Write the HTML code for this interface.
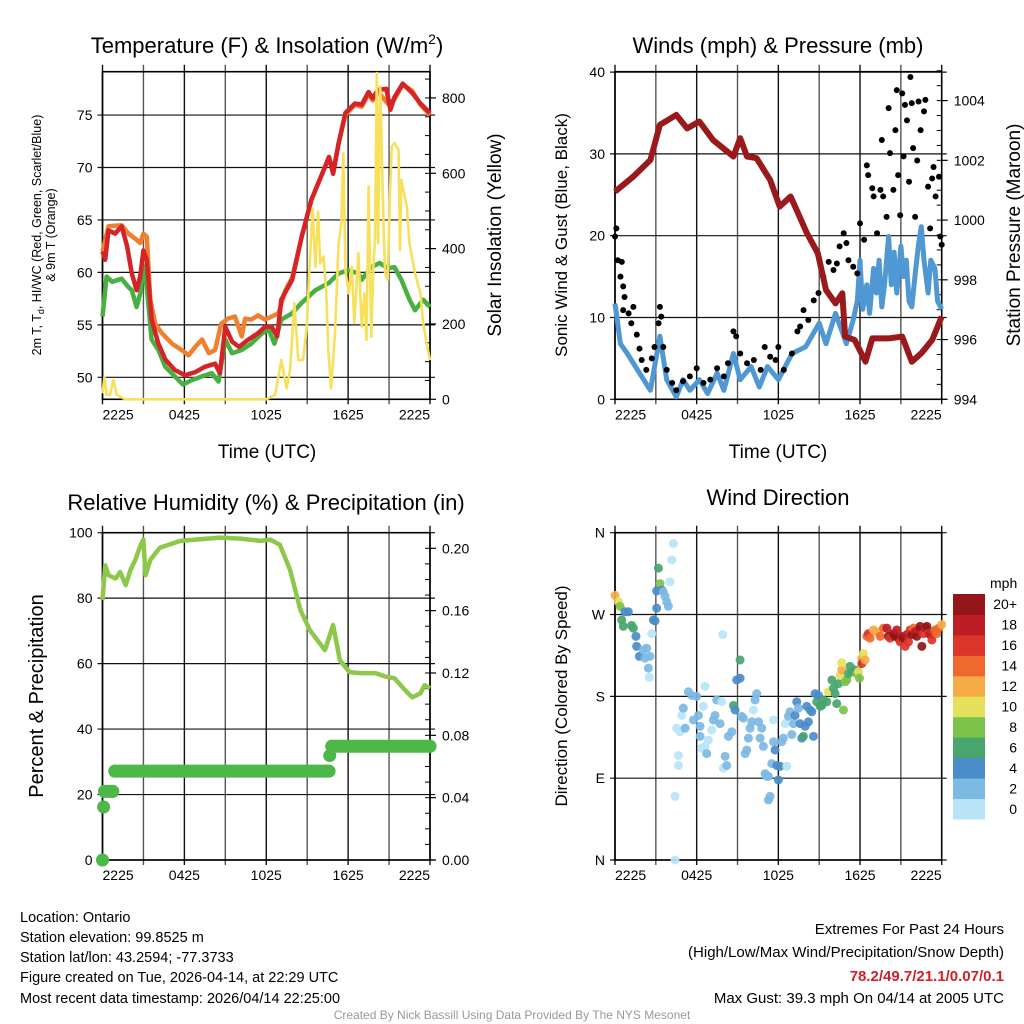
<!DOCTYPE html>
<html><head><meta charset="utf-8"><title>Mesonet Station Summary</title>
<style>
html,body{margin:0;padding:0;background:#fff;}
svg{display:block;font-family:"Liberation Sans",Arial,sans-serif;}
</style></head>
<body>
<svg id="chart" width="1024" height="1024" viewBox="0 0 1024 1024" xmlns="http://www.w3.org/2000/svg">
<rect x="0" y="0" width="1024" height="1024" fill="#fff"/>
<!-- titles -->
<text x="267" y="53" font-size="22" text-anchor="middle">Temperature (F) &amp; Insolation (W/m<tspan dy="-9" font-size="14">2</tspan><tspan dy="9">)</tspan></text>
<text x="778" y="53" font-size="22" text-anchor="middle">Winds (mph) &amp; Pressure (mb)</text>
<text x="266" y="510" font-size="22" text-anchor="middle">Relative Humidity (%) &amp; Precipitation (in)</text>
<text x="778" y="505" font-size="22" text-anchor="middle">Wind Direction</text>
<text x="267" y="458" font-size="19" text-anchor="middle">Time (UTC)</text>
<text x="778" y="458" font-size="19" text-anchor="middle">Time (UTC)</text>
<text transform="translate(41,235) rotate(-90)" font-size="12.5" text-anchor="middle">2m T, T<tspan dy="3" font-size="9">d</tspan><tspan dy="-3">, HI/WC (Red, Green, Scarlet/Blue)</tspan></text>
<text transform="translate(55,235) rotate(-90)" font-size="12.5" text-anchor="middle">&amp; 9m T (Orange)</text>
<text transform="translate(501,235) rotate(-90)" font-size="19" text-anchor="middle">Solar Insolation (Yellow)</text>
<text transform="translate(567,235) rotate(-90)" font-size="17" text-anchor="middle">Sonic Wind &amp; Gust (Blue, Black)</text>
<text transform="translate(1020,235) rotate(-90)" font-size="19" text-anchor="middle">Station Pressure (Maroon)</text>
<text transform="translate(43,696) rotate(-90)" font-size="20" text-anchor="middle">Percent &amp; Precipitation</text>
<text transform="translate(567,696) rotate(-90)" font-size="17" text-anchor="middle">Direction (Colored By Speed)</text>
<!-- footer -->
<g font-size="14.5">
<text x="20" y="922">Location: Ontario</text>
<text x="20" y="942">Station elevation: 99.8525 m</text>
<text x="20" y="962">Station lat/lon: 43.2594; -77.3733</text>
<text x="20" y="982">Figure created on Tue, 2026-04-14, at 22:29 UTC</text>
<text x="20" y="1003">Most recent data timestamp: 2026/04/14 22:25:00</text>
</g>
<g font-size="15" text-anchor="end">
<text x="1004" y="934">Extremes For Past 24 Hours</text>
<text x="1004" y="957">(High/Low/Max Wind/Precipitation/Snow Depth)</text>
<text x="1004" y="981" font-weight="bold" fill="#d0202a">78.2/49.7/21.1/0.07/0.1</text>
<text x="1004" y="1003">Max Gust: 39.3 mph On 04/14 at 2005 UTC</text>
</g>
<text x="512" y="1019" font-size="12" fill="#999" text-anchor="middle">Created By Nick Bassill Using Data Provided By The NYS Mesonet</text>
<g id="layers"></g>
</svg>
<script>
// ---------- data ----------
const xTickLabels = ["2225","0425","1025","1625","2225"];
const tempTickLabels = [50,55,60,65,70,75];
const solarTickLabels = [0,200,400,600,800];
const windTickLabels = [0,10,20,30,40];
const presTickLabels = [994,996,998,1000,1002,1004];
const rhTickLabels = [0,20,40,60,80,100];
const precipTickLabels = ["0.00","0.04","0.08","0.12","0.16","0.20"];
const dirTickLabels = ["N","E","S","W","N"];
const speedBinLabels = ["0","2","4","6","8","10","12","14","16","18","20+"];

const orgH=[0,0.44,1.4,1.9,2.4,2.76,3.0,3.25,3.5,3.86,4.35,5.1,5.8,6.3,6.8,7.3,7.8,8.25,8.7,9.2,9.7,10.2,10.45,10.9,11.4,11.9,12.4,12.9,13.4,13.9,14.6,15.3,16.1,16.6,16.9,17.3,17.8,18.5,19,19.5,19.8,20.2,20.9,21.4,22.0,22.7,23.3,24];
const orgT=[62.0,64.4,64.5,63.7,63.2,62.8,63.7,63.4,57.4,55.1,54.2,53.2,52.6,52.1,52.9,53.6,52.3,52.6,55.1,55.6,55.8,53.9,55.6,55.5,55.9,55.5,55.8,56.1,58.3,59.5,63.4,66.9,69.4,71.0,69.6,72.3,75.0,76.0,75.8,77.0,76.4,77.2,76.1,76.5,77.9,77.3,76.0,75.0];
const redH=[0,0.2,0.44,0.93,1.4,1.8,2.15,2.5,2.76,3.0,3.25,3.6,4.1,4.6,5.3,6.05,6.8,7.5,8.25,8.6,9.0,9.5,10,10.7,11.4,11.9,12.4,12.8,13.1,13.9,14.6,15.3,16.1,16.6,16.9,17.3,17.8,18.5,19,19.5,19.8,20.2,20.8,21.1,21.4,22.0,22.7,23.3,24];
const redT=[62.0,61.2,64.0,63.7,64.4,62.5,59.9,58.3,59.6,62.1,61.2,55.5,53.2,51.7,50.7,50.2,50.5,51.0,51.3,50.4,54.8,53.4,52.9,53.6,54.2,54.8,54.8,53.9,57.4,59.3,63.4,66.9,69.4,71.0,69.4,72.3,75.2,76.1,76.0,77.2,76.6,77.4,77.5,75.5,76.7,78.0,77.1,76.1,75.2];
const grnH=[0,0.3,0.7,1.4,1.9,2.15,2.5,2.76,3.0,3.25,3.6,4.1,4.6,5.3,5.9,6.5,7.3,8.0,8.5,9.0,9.5,10.2,10.9,11.7,12.2,12.6,13.1,13.9,14.6,15.6,16.6,17.3,18.0,18.75,19,19.7,20.3,20.9,21.4,21.9,22.5,22.9,23.5,24];
const grnT=[55.8,59.6,59.1,59.4,58.6,58.3,56.7,58.0,60.7,58.6,53.6,52.6,51.0,50.1,49.3,49.7,50.1,50.4,49.6,53.6,52.3,52.6,53.2,54.2,54.5,53.2,55.5,56.1,57.1,58.3,59.0,59.9,60.2,59.9,59.3,60.5,60.9,60.4,60.5,59.3,57.4,56.4,57.4,56.7];
const solH=[0,0.15,0.3,0.55,0.8,1.05,1.66,12.0,12.65,13.1,13.5,13.75,14.06,14.35,14.7,14.97,15.2,15.4,15.6,15.8,15.95,16.2,16.4,16.55,16.75,17.04,17.3,17.5,17.65,17.8,18.05,18.26,18.45,18.75,19,19.2,19.35,19.5,19.7,19.85,19.97,20.1,20.2,20.35,20.6,20.7,20.9,21.07,21.2,21.4,21.7,21.8,21.9,22.3,22.5,22.9,23.3,23.5,23.75,24];
const solW=[16,60,12,12,51,12,0,0,12,104,29,78,255,104,104,193,370,507,352,498,361,379,281,131,29,175,414,467,653,343,281,352,202,388,193,281,158,565,166,352,423,866,414,830,458,335,317,547,671,680,662,396,582,512,414,335,281,202,149,104];

const presH=[0,1.35,2.6,3.3,4.5,5.3,6.2,7.2,8.7,9.2,9.7,10.4,11.4,12.1,12.9,13.4,14.1,14.9,15.5,16.2,16.7,16.9,17.6,18.4,18.9,20.1,21.1,21.8,22.5,23.3,24];
const presV=[1000.95,1001.46,1002.01,1003.19,1003.52,1003.07,1003.30,1002.68,1002.13,1002.74,1002.13,1002.07,1001.34,1000.45,1000.79,1000.28,999.56,998.89,997.66,997.21,997.55,996.10,995.99,995.26,996.04,996.04,996.10,995.26,995.54,995.99,996.77];
const windH=[0,0.4,0.9,1.8,2.6,3.3,3.8,4.5,5,5.5,6.2,6.8,7.5,8,8.7,9.2,10,10.6,11.2,12,13,14,15,15.5,16.2,17,17.5,17.8,18,18.2,18.5,18.7,19,19.2,19.4,19.6,19.8,20.1,20.3,20.5,20.7,21,21.2,21.4,21.6,21.8,22.1,22.3,22.5,22.7,23,23.2,23.5,23.7,24];
const windV=[11.7,6.8,5.6,3.2,1.1,7.7,2.4,0.3,2.4,1.1,2.4,0.7,3.2,1.1,5.6,2.4,4,1.5,4,2.4,5.6,6.4,9.3,6.8,10.5,6.8,9.7,12,17,11,14,10.5,16,13,17,11.3,14,19.9,14,18,13,18.7,15,17,12,11.3,16,19,21.1,17,13,17,16,12,11];
const gustH=[0,0.1,0.2,0.4,0.5,0.6,0.6,0.7,1.0,1.2,1.35,1.6,1.8,1.96,2.3,2.7,2.9,3.2,3.3,3.4,3.55,3.8,4.2,4.5,5,5.5,6,6.5,7,7.5,8,8.3,8.7,8.9,9.2,9.7,10.2,10.7,11,11.4,11.8,12,12.4,13,13.4,13.6,13.85,14.2,14.6,14.95,15.3,15.7,16.05,16.3,16.5,16.8,17,17.15,17.5,17.8,18,18.3,18.5,18.6,18.9,19,19.25,19.5,19.6,19.7,19.95,20.1,20.2,20.45,20.6,20.7,20.8,20.95,21.1,21.2,21.3,21.45,21.6,21.7,21.8,21.9,22.05,22.2,22.3,22.45,22.7,22.8,23,23.15,23.3,23.4,23.55,23.8,23.9,24];
const gustV=[19.9,20.9,17,15,16.8,13.8,10.9,12.5,10.5,9.3,11.3,7.9,6.2,4.8,3.6,5,6.4,9.3,11.3,10.1,6.4,3.6,2,1.1,2.2,2.8,3.8,2,2.4,3.8,2.8,4.4,8.3,7.7,5.6,4.4,4.8,3.6,6.4,5.2,4.8,6.4,3.6,5.6,8.3,8.9,10.9,9.7,12.1,13,15,16.8,15.8,16.6,18.7,20.3,19.1,17,16.2,15.4,21.5,19.5,28.6,27.4,25.8,24.8,20.3,25.6,31.7,24.8,22.3,35.6,30.1,25.6,32.9,37.8,27.4,22.5,37.4,29.7,36,34.1,26.6,39.4,36.2,30.7,22.3,29.2,36.4,32.9,35.2,36.6,26,20.9,27,28.4,24.8,27.2,19.9,18.9];

const rhH=[0,0.2,0.45,0.95,1.3,1.7,2.05,2.4,2.8,3.0,3.15,3.5,4.2,5.7,8.6,10.1,11.6,12.3,13,13.75,14.5,15.2,16.3,16.9,17.4,18.1,18.9,20,20.7,21.4,22.2,22.7,23.3,23.6,24];
const rhV=[79.4,90,87,86,88,84,88.6,91.7,96.3,97.9,87,91.7,95.4,97.5,98.5,98.2,97.5,97.9,96.3,88.6,76.4,70.2,64.1,71.8,61,57.4,57.1,57.1,56.1,55.5,51.8,49.7,50.9,53.4,52.5];
const precipH=[0,0.08,0.15,0.75,0.9,16.6,16.65,16.8,24];
const precipV=[0,0.034,0.044,0.044,0.057,0.057,0.067,0.073,0.073];

const dirH=[0,0.25,0.37,0.49,0.73,0.98,0.61,1.22,1.35,1.54,1.59,1.79,2.08,2.2,2.33,2.57,2.45,2.52,2.7,2.82,2.94,3.06,3.06,3.19,3.31,3.43,3.55,3.68,3.8,3.92,4.04,4.17,4.29,4.41,4.41,4.66,4.66,4.53,4.78,4.9,5.02,5.15,5.39,5.64,5.76,6.0,6.13,6.25,6.25,6.37,6.62,6.74,6.86,6.62,6.49,7.11,7.23,7.35,7.47,7.72,7.84,7.91,7.96,8.09,8.21,8.33,8.58,8.7,8.82,8.94,9.19,9.19,9.31,9.43,9.56,9.68,9.8,9.92,10.05,10.17,10.29,10.41,10.54,10.66,10.78,10.9,11.03,11.15,11.27,11.27,11.39,11.52,11.64,11.64,11.76,11.88,12.0,12.13,12.25,12.37,12.5,12.62,12.74,12.86,12.99,13.11,13.23,13.35,13.48,13.6,13.72,13.84,13.97,14.09,14.21,14.33,14.46,14.58,14.7,14.82,14.95,15.07,15.19,15.31,15.56,15.68,15.93,16.05,16.17,16.29,16.42,16.54,16.66,16.66,16.78,16.91,17.03,17.15,17.27,17.4,17.64,17.76,17.89,17.96,18.13,18.13,18.25,18.38,18.5,18.62,18.74,18.99,19.23,19.48,19.72,19.97,20.09,20.21,20.46,20.58,20.7,20.83,20.95,21.07,21.19,21.32,21.44,21.56,21.68,21.81,21.93,22.05,22.17,22.3,22.42,22.54,22.66,22.79,22.91,23.03,23.15,23.28,23.4,23.52,23.64,23.77,24];
const dirDeg=[291,284,279,264,273,273,257,258,255,246,235,224,231,222,233,224,211,201,249,264,263,277,296,321,304,297,295,290,284,279,306,330,348,0,70,115,104,145,141,159,167,145,185,181,154,180,159,147,136,123,125,117,132,191,169,143,154,159,176,150,174,248,101,114,104,136,141,170,165,198,220,200,158,156,117,121,134,145,152,165,176,183,152,134,145,125,95,92,92,66,70,106,130,154,121,104,88,103,130,134,150,103,158,163,138,150,159,174,167,150,134,136,147,169,152,165,163,136,183,174,181,169,170,176,174,185,198,189,183,172,194,203,209,217,165,196,198,205,213,207,209,205,207,200,222,216,227,220,246,249,244,253,251,246,255,255,246,244,249,246,253,244,240,246,244,235,248,240,253,248,255,251,246,253,257,235,249,255,257,249,248,242,251,253,249,255,259];
const dirSpd=[12,10,9,6,4,4,6,6,6,4,4,4,3,3,3,2,2,1,1,4,4,4,4,6,8,4,3,3,2,2,1,1,1,0,1,1,1,1,1,1,3,2,2,2,2,3,3,3,2,1,1,2,1,1,1,1,2,2,2,2,1,1,1,2,2,2,2,6,4,4,6,4,2,2,2,2,2,2,2,1,2,2,2,2,2,2,2,2,2,2,2,2,2,1,4,4,4,4,2,2,1,1,2,2,2,2,4,4,2,4,4,6,4,4,4,4,4,4,4,6,4,6,6,6,7,10,7,6,7,7,6,10,12,10,8,8,8,7,6,6,7,8,10,8,12,16,10,12,15,16,14,12,13,14,15,19,20,16,20,20,19,20,16,19,20,17,18,16,17,20,14,18,20,19,20,21,17,19,20,16,18,17,17,14,15,14,13];
const speedColors=["#b9e4f8","#7cb9e3","#4a8dc7","#47a56d","#7bc24a","#e6e15a","#f7ab47","#ef682d","#db3428","#bc1c23","#93151a"];

// ---------- helpers ----------
const NS="http://www.w3.org/2000/svg";
const root=document.getElementById("layers");
function mk(tag,attrs,parent){const e=document.createElementNS(NS,tag);for(const k in attrs)e.setAttribute(k,attrs[k]);(parent||root).appendChild(e);return e;}
function txt(x,y,s,attrs,parent){const e=mk("text",Object.assign({x:x,y:y},attrs),parent);e.textContent=s;return e;}
function pathFrom(xs,ys,fx,fy){let d="";const n=Math.min(xs.length,ys.length);for(let i=0;i<n;i++){d+=(i?"L":"M")+fx(xs[i]).toFixed(1)+","+fy(ys[i]).toFixed(1);}return d;}

// ---------- panel geometry / axis functions ----------
const P1={x0:102.5,x1:430,y0:71.7,y1:399.3};
const P2={x0:615,x1:941.7,y0:71.7,y1:399.3};
const P3={x0:102.5,x1:430,y0:532.7,y1:860};
const P4={x0:615,x1:941.7,y0:532.7,y1:860};
function hx(P){return h=>P.x0+h*(P.x1-P.x0)/24;}
const x1=hx(P1),x2=hx(P2),x3=hx(P3),x4=hx(P4);
const yTemp=t=>377.3-(t-50)*10.49;
const ySol=w=>399.3-w*0.3767;
const yWind=v=>399.3-v*8.18;
const yPres=p=>399.3-(p-994)*29.87;
const yRH=r=>860-r*3.273;
const yPrecip=p=>860-p*1558.5;
const yDir=d=>860-d*327.3/360;

function frame(P,name,hGridVals,yf){
  const g=mk("g",{});
  
  
  for(let h=0;h<=24;h+=3){
    const l=mk("line",{x1:hx(P)(h),x2:hx(P)(h),y1:P.y0-7,y2:P.y1+5,stroke:(h%6===0)?"#111":"#555","stroke-width":1.4},g);
    
    
  }
  hGridVals.forEach(v=>{
    const l=mk("line",{x1:P.x0-5,x2:P.x1+5,y1:yf(v),y2:yf(v),stroke:"#111","stroke-width":1.2},g);
    
    
  });
  const b=mk("rect",{x:P.x0,y:P.y0,width:P.x1-P.x0,height:P.y1-P.y0,fill:"none",stroke:"#000","stroke-width":1.6},g);
  
  
  xTickLabels.forEach((s,i)=>{
    const anchor=i===0?"start":(i===xTickLabels.length-1?"end":"middle");
    const t=txt(hx(P)(i*6),P.y1+20,s,{"font-size":14,"text-anchor":anchor},g);
    
    
  });
}
function leftTicks(P,vals,labels,yf,name){
  vals.forEach((v,i)=>{
    const t=txt(P.x0-10,yf(v)+5,String(labels[i]),{"font-size":14,"text-anchor":"end"});
    
    
  });
}
function rightTicks(P,vals,labels,yf,name,minorStep){
  vals.forEach((v,i)=>{
    const t=txt(P.x1+12,yf(v)+5,String(labels[i]),{"font-size":14,"text-anchor":"start"});
    
    
    const m=mk("line",{x1:P.x1,x2:P.x1+6,y1:yf(v),y2:yf(v),stroke:"#000","stroke-width":1.2});
    
    
  });
  if(minorStep){
    const lo=vals[0],hi=vals[vals.length-1]+minorStep*4;
    for(let v=lo;v<=hi+1e-9;v+=minorStep){
      const y=yf(v); if(y<P.y0-1)break;
      const m=mk("line",{x1:P.x1-5,x2:P.x1,y1:y,y2:y,stroke:"#000","stroke-width":1});
      
      
    }
  }
}

// ---------- panel 1 ----------
frame(P1,"temperature",tempTickLabels,yTemp);
leftTicks(P1,tempTickLabels,tempTickLabels,yTemp,"temperature");
rightTicks(P1,solarTickLabels,solarTickLabels,ySol,"insolation",50);
let s;
s=mk("path",{d:pathFrom(orgH,orgT,x1,yTemp),fill:"none",stroke:"#f08030","stroke-width":4.5,"stroke-linejoin":"round"});


s=mk("path",{d:pathFrom(grnH,grnT,x1,yTemp),fill:"none",stroke:"#46b040","stroke-width":4.5,"stroke-linejoin":"round"});


s=mk("path",{d:pathFrom(redH,redT,x1,yTemp),fill:"none",stroke:"#d42428","stroke-width":4.5,"stroke-linejoin":"round"});


s=mk("path",{d:pathFrom(solH,solW,x1,ySol),fill:"none",stroke:"#f9e05a","stroke-width":2.6,"stroke-linejoin":"round"});



// ---------- panel 2 ----------
frame(P2,"winds",windTickLabels,yWind);
leftTicks(P2,windTickLabels,windTickLabels,yWind,"wind");
rightTicks(P2,presTickLabels,presTickLabels,yPres,"pressure",0.5);
s=mk("path",{d:pathFrom(windH,windV,x2,yWind),fill:"none",stroke:"#4f98d3","stroke-width":5,"stroke-linejoin":"round"});


const gustG=mk("g",{fill:"#000"});


for(let i=0;i<Math.min(gustH.length,gustV.length);i++){
  const c=mk("circle",{cx:x2(gustH[i]),cy:yWind(gustV[i]),r:3},gustG);
  
  
}
s=mk("path",{d:pathFrom(presH,presV,x2,yPres),fill:"none",stroke:"#9a1a1c","stroke-width":6,"stroke-linejoin":"round"});



// ---------- panel 3 ----------
frame(P3,"humidity",rhTickLabels,yRH);
leftTicks(P3,rhTickLabels,rhTickLabels,yRH,"humidity");
rightTicks(P3,[0,0.04,0.08,0.12,0.16,0.2],precipTickLabels,yPrecip,"precipitation",0.01);
s=mk("path",{d:pathFrom(rhH,rhV,x3,yRH),fill:"none",stroke:"#8dc84a","stroke-width":4.5,"stroke-linejoin":"round"});


const prG=mk("g",{fill:"#4cb848",stroke:"#4cb848"});


for(let i=0;i<precipH.length;i++){
  if(i>0&&precipV[i]===precipV[i-1]){
    const l=mk("line",{x1:x3(precipH[i-1]),x2:x3(precipH[i]),y1:yPrecip(precipV[i]),y2:yPrecip(precipV[i]),"stroke-width":13,"stroke-linecap":"round"},prG);
    
    
  }
  const c=mk("circle",{cx:x3(precipH[i]),cy:yPrecip(precipV[i]),r:6.5,stroke:"none"},prG);
  
  
}

// ---------- panel 4 ----------
frame(P4,"wind-direction",[0,90,180,270,360],yDir);
leftTicks(P4,[0,90,180,270,360],dirTickLabels,yDir,"direction");
const dG=mk("g",{});


for(let i=0;i<Math.min(dirH.length,dirDeg.length,dirSpd.length);i++){
  const bin=Math.min(10,Math.floor(dirSpd[i]/2));
  const c=mk("circle",{cx:x4(dirH[i]),cy:yDir(dirDeg[i]),r:4.5,fill:speedColors[bin],"fill-opacity":0.92},dG);
  
  
}
// colorbar
const cb=mk("g",{});


const cbTop=594,cbBot=819,cbH=(cbBot-cbTop)/speedBinLabels.length;
speedBinLabels.forEach((lab,i)=>{
  const y=cbBot-(i+1)*cbH;
  const r=mk("rect",{x:953,y:y,width:32,height:cbH+0.5,fill:speedColors[i]},cb);
  
  
  const t=txt(1017,y+cbH/2+5,lab,{"font-size":14,"text-anchor":"end"},cb);
  
  
});
const mph=txt(990,588,"mph",{"font-size":14},cb);


</script>
</body></html>
